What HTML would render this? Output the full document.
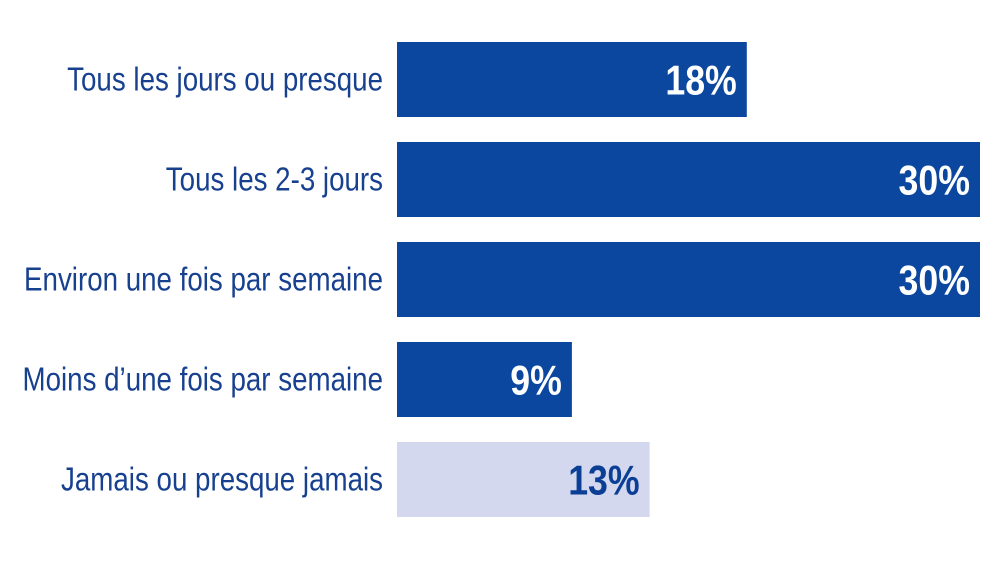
<!DOCTYPE html>
<html><head><meta charset="utf-8"><style>
html,body{margin:0;padding:0;background:#fff;}
svg{display:block;}
</style></head><body>
<svg id="chart" width="1000" height="563" viewBox="0 0 1000 563" xmlns="http://www.w3.org/2000/svg"></svg>
<script>
const categories = ["Tous les jours ou presque","Tous les 2-3 jours","Environ une fois par semaine","Moins d\u2019une fois par semaine","Jamais ou presque jamais"];
const values = [18,30,30,9,13];
const valueLabels = ["18%","30%","30%","9%","13%"];
const highlight = [true,true,true,true,false];

const svg = document.getElementById('chart');
const NS = 'http://www.w3.org/2000/svg';
const x0 = 397, xMaxPx = 980, vMax = 30;
const xScale = v => (v / vMax) * (xMaxPx - x0);
const bandTop = 42, bandStep = 100, barH = 75;
const yScale = i => bandTop + i * bandStep;

categories.forEach((c, i) => {
  const y = yScale(i);
  const w = xScale(values[i]);
  const rect = document.createElementNS(NS, 'rect');
  
  
  rect.setAttribute('x', x0);
  rect.setAttribute('y', y);
  rect.setAttribute('width', w);
  rect.setAttribute('height', barH);
  rect.setAttribute('fill', highlight[i] ? '#0b479f' : '#d4d8ef');
  svg.appendChild(rect);

  const lx = 383, ly = y + barH / 2 + 11;
  const lbl = document.createElementNS(NS, 'text');
  
  
  lbl.setAttribute('x', 0);
  lbl.setAttribute('y', 0);
  lbl.setAttribute('text-anchor', 'end');
  lbl.setAttribute('transform', `translate(${lx},${ly}) scale(0.84,1)`);
  lbl.setAttribute('font-family', 'Liberation Sans, sans-serif');
  lbl.setAttribute('font-size', '33');
  lbl.setAttribute('fill', '#17408f');
  lbl.textContent = c;
  svg.appendChild(lbl);

  const vx = x0 + w - 10, vy = y + barH / 2 + 15;
  const vl = document.createElementNS(NS, 'text');
  
  
  vl.setAttribute('x', 0);
  vl.setAttribute('y', 0);
  vl.setAttribute('text-anchor', 'end');
  vl.setAttribute('transform', `translate(${vx},${vy}) scale(0.85,1)`);
  vl.setAttribute('font-family', 'Liberation Sans, sans-serif');
  vl.setAttribute('font-weight', 'bold');
  vl.setAttribute('font-size', '42');
  vl.setAttribute('fill', highlight[i] ? '#ffffff' : '#0b3f95');
  vl.textContent = valueLabels[i];
  svg.appendChild(vl);
});
</script>
</body></html>
